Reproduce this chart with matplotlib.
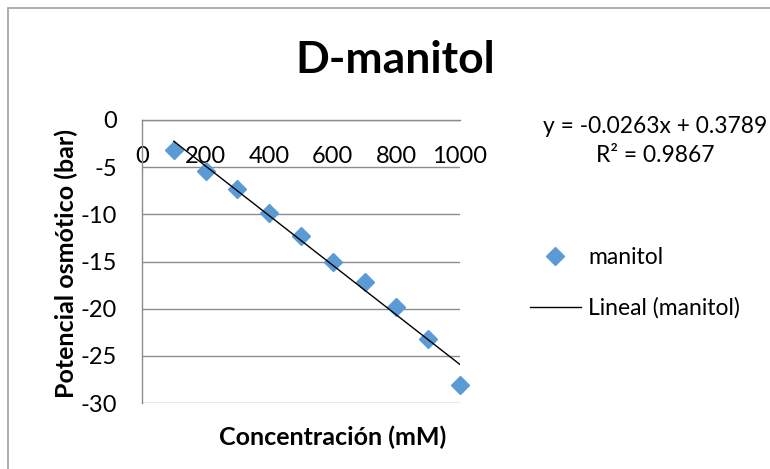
import numpy as np
import matplotlib.pyplot as plt
from matplotlib.lines import Line2D
from matplotlib.patches import Rectangle

plt.rcParams["font.family"] = ["Lato", "DejaVu Sans"]
plt.rcParams["axes.unicode_minus"] = False

# Osmotic potential of D-mannitol solutions
concentracion = [100, 200, 300, 400, 500, 600, 700, 800, 900, 1000]
potencial = [-3.2, -5.4, -7.3, -9.9, -12.3, -15.0, -17.2, -19.8, -23.2, -28.1]

# Linear trendline reported on the chart
pendiente = -0.0263
intercepto = 0.3789
r2 = 0.9867

x_ticks = [0, 200, 400, 600, 800, 1000]
y_ticks = [0, -5, -10, -15, -20, -25, -30]

W, H = 770, 469
fig = plt.figure(figsize=(W / 100, H / 100), dpi=100)
fig.patch.set_facecolor("white")

# chart frame
fig.add_artist(Rectangle((8 / W, -0.01), 1.0, (H - 8) / H + 0.01,
                         transform=fig.transFigure, fill=False,
                         edgecolor="#a0a0a0", linewidth=1.2))

ax = fig.add_axes([142 / W, (H - 403) / H, 318 / W, 283 / H])

azul = "#5b9bd5"
gris = "#8c8c8c"

ax.plot(concentracion, potencial, linestyle="none", marker="D",
        markersize=9.5, color=azul, zorder=3, clip_on=False)

xt = np.array([concentracion[0], concentracion[-1]])
ax.plot(xt, pendiente * xt + intercepto, color="black", linewidth=1, zorder=4)

ax.set_xlim(0, 1000)
ax.set_ylim(-30, 0)
ax.set_xticks(x_ticks)
ax.set_yticks(y_ticks)

for s in ["bottom", "right"]:
    ax.spines[s].set_visible(False)
ax.spines["left"].set_color(gris)
ax.spines["top"].set_color(gris)
ax.spines["left"].set_linewidth(1)
ax.spines["top"].set_linewidth(1)

ax.grid(axis="y", color=gris, linewidth=1)
ax.set_axisbelow(True)

ax.tick_params(axis="x", top=True, labeltop=True, bottom=False,
               labelbottom=False, length=0, pad=-34, labelsize=17)
ax.tick_params(axis="y", length=0, pad=18, labelsize=17)

fig.text(395 / W, 1 - 60 / H, "D-manitol", ha="center", va="center",
         fontsize=32, fontweight="bold")
fig.text(333 / W, 1 - 437 / H, "Concentración (mM)", ha="center",
         va="center", fontsize=18, fontweight="bold")
fig.text(66 / W, 1 - 263 / H, "Potencial osmótico (bar)", ha="center",
         va="center", rotation=90, fontsize=18, fontweight="bold")

fig.text(655 / W, 1 - 141 / H,
         f"y = {pendiente}x + {intercepto}\nR² = {r2}",
         ha="center", va="center", fontsize=16.4, linespacing=1.45)

handles = [
    Line2D([], [], linestyle="none", marker="D", markersize=9.5, color=azul),
    Line2D([], [], color="black", linewidth=1),
]
fig.legend(handles, ["manitol", "Lineal (manitol)"],
           loc="center left", bbox_to_anchor=(509 / W, 1 - 283 / H),
           frameon=False, fontsize=16.5, handlelength=2.25,
           handletextpad=0.3, labelspacing=1.25)

fig.savefig("out.png", dpi=100)
